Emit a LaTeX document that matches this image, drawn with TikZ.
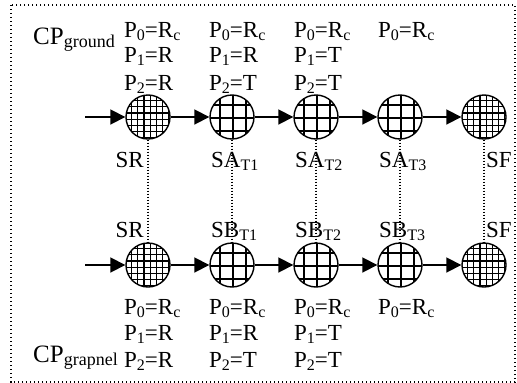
\documentclass[tikz,border=0pt]{standalone}
\usepackage{fontspec}
\setmainfont{Liberation Serif}
\usetikzlibrary{arrows.meta}

% lowered small subscript
\newcommand{\lsub}[1]{\raisebox{-3pt}{\fontsize{16}{17}\selectfont #1}}
\newcommand{\cpsub}[1]{\raisebox{-3pt}{\fontsize{18}{19}\selectfont #1}}

\begin{document}
\begin{tikzpicture}[x=1pt,y=-1pt,
  state/.style={circle, draw, line width=1.4pt, minimum size=44pt, inner sep=0pt, fill=white},
  finestate/.style={state, path picture={
      \begin{scope}[shift={(path picture bounding box.center)}, line width=1.1pt]
        \foreach \d in {-16.4,-10.2,-4.0,2.2,8.4,14.6,20.8}
          \draw (\d,-25) -- (\d,25) (-25,\d) -- (25,\d);
      \end{scope}}},
  coarsestate/.style={state, path picture={
      \begin{scope}[shift={(path picture bounding box.center)}, line width=1.1pt]
        \foreach \d in {-12,1,14}
          \draw (\d,-25) -- (\d,25) (-25,\d) -- (25,\d);
      \end{scope}}},
  flow/.style={-{Triangle[length=15pt,width=15pt]}, line width=1.8pt},
  link/.style={line width=1.2pt, dash pattern=on 1.2pt off 1.8pt},
  frame/.style={line width=1.2pt, dash pattern=on 1.2pt off 2.8pt},
  txt/.style={font=\fontsize{23}{27}\selectfont, inner sep=0pt, anchor=base west},
  lbl/.style={font=\fontsize{23}{27}\selectfont, inner sep=0pt},
  cp/.style={font=\fontsize{25}{29}\selectfont, inner sep=0pt, anchor=base west}
]
\useasboundingbox (0,0) rectangle (517,383);
\draw[frame] (11,5) rectangle (515,382);

% ground chain
\coordinate (gin) at (85,117);
\node[finestate]   (gr)  at (148,117) {};
\node[coarsestate] (ga1) at (232,117) {};
\node[coarsestate] (ga2) at (316,117) {};
\node[coarsestate] (ga3) at (400,117) {};
\node[finestate]   (gf)  at (484,117) {};

% grapnel chain
\coordinate (pin) at (85,265);
\node[finestate]   (pr)  at (148,265) {};
\node[coarsestate] (pb1) at (232,265) {};
\node[coarsestate] (pb2) at (316,265) {};
\node[coarsestate] (pb3) at (400,265) {};
\node[finestate]   (pf)  at (484,265) {};

\draw[flow] (gin) -- (gr);
\draw[flow] (gr) -- (ga1);
\draw[flow] (ga1) -- (ga2);
\draw[flow] (ga2) -- (ga3);
\draw[flow] (ga3) -- (gf);

\draw[flow] (pin) -- (pr);
\draw[flow] (pr) -- (pb1);
\draw[flow] (pb1) -- (pb2);
\draw[flow] (pb2) -- (pb3);
\draw[flow] (pb3) -- (pf);

% correspondence links
\draw[link] (gr.south) -- (pr.north);
\draw[link] (ga1.south) -- (pb1.north);
\draw[link] (ga2.south) -- (pb2.north);
\draw[link] (ga3.south) -- (pb3.north);
\draw[link] (gf.south) -- (pf.north);

% state labels
\node[lbl, anchor=base east] (lgr)  at (144,167) {SR};
\node[lbl, anchor=base west] (lga1) at (211,167) {SA\lsub{T1}};
\node[lbl, anchor=base west] (lga2) at (295,167) {SA\lsub{T2}};
\node[lbl, anchor=base west] (lga3) at (379,167) {SA\lsub{T3}};
\node[lbl, anchor=base west] (lgf)  at (486,167) {SF};

\node[lbl, anchor=base east] (lpr)  at (144,237) {SR};
\node[lbl, anchor=base west] (lpb1) at (211,237) {SB\lsub{T1}};
\node[lbl, anchor=base west] (lpb2) at (295,237) {SB\lsub{T2}};
\node[lbl, anchor=base west] (lpb3) at (379,237) {SB\lsub{T3}};
\node[lbl, anchor=base west] (lpf)  at (486,237) {SF};

% process names
\node[cp] (cpg) at (33,44)  {CP\cpsub{ground}};
\node[cp] (cpp) at (33,362) {CP\cpsub{grapnel}};

% ground pointer values
\node[txt] (g1a) at (124,37) {P\lsub{0}=R\lsub{c}};
\node[txt] (g1b) at (124,62) {P\lsub{1}=R};
\node[txt] (g1c) at (124,90) {P\lsub{2}=R};
\node[txt] (g2a) at (209,37) {P\lsub{0}=R\lsub{c}};
\node[txt] (g2b) at (209,62) {P\lsub{1}=R};
\node[txt] (g2c) at (209,90) {P\lsub{2}=T};
\node[txt] (g3a) at (294,37) {P\lsub{0}=R\lsub{c}};
\node[txt] (g3b) at (294,62) {P\lsub{1}=T};
\node[txt] (g3c) at (294,90) {P\lsub{2}=T};
\node[txt] (g4a) at (378,37) {P\lsub{0}=R\lsub{c}};

% grapnel pointer values
\node[txt] (p1a) at (124,314) {P\lsub{0}=R\lsub{c}};
\node[txt] (p1b) at (124,340) {P\lsub{1}=R};
\node[txt] (p1c) at (124,367) {P\lsub{2}=R};
\node[txt] (p2a) at (209,314) {P\lsub{0}=R\lsub{c}};
\node[txt] (p2b) at (209,340) {P\lsub{1}=R};
\node[txt] (p2c) at (209,367) {P\lsub{2}=T};
\node[txt] (p3a) at (294,314) {P\lsub{0}=R\lsub{c}};
\node[txt] (p3b) at (294,340) {P\lsub{1}=T};
\node[txt] (p3c) at (294,367) {P\lsub{2}=T};
\node[txt] (p4a) at (378,314) {P\lsub{0}=R\lsub{c}};
\end{tikzpicture}
\end{document}
